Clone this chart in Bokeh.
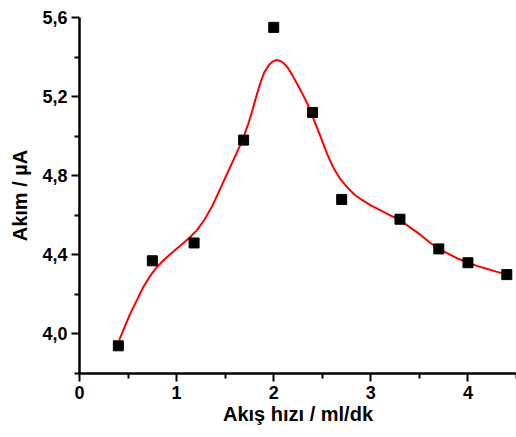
from bokeh.plotting import figure
from bokeh.models import FixedTicker, Range1d
from bokeh.embed import file_html
from bokeh.resources import INLINE

# measured points
flow = [0.4, 0.75, 1.18, 1.69, 2.0, 2.4, 2.7, 3.3, 3.7, 4.0, 4.4]
current = [3.94, 4.37, 4.46, 4.98, 5.55, 5.12, 4.68, 4.58, 4.43, 4.36, 4.30]

# fitted red curve
fit_x = [0.41, 0.46, 0.52, 0.59, 0.66, 0.73, 0.80, 0.87, 0.94, 1.01, 1.07, 1.14, 1.21, 1.29,
         1.37, 1.45, 1.52, 1.59, 1.65, 1.70, 1.74, 1.78, 1.82, 1.86, 1.90, 1.95, 1.99, 2.03,
         2.07, 2.10, 2.14, 2.19, 2.24, 2.30, 2.36, 2.42, 2.48, 2.55, 2.62, 2.69, 2.76, 2.83,
         2.90, 3.0, 3.10, 3.20, 3.30, 3.40, 3.50, 3.60, 3.70, 3.80, 3.90, 4.0, 4.10, 4.20,
         4.30, 4.40]
fit_y = [3.97, 4.03, 4.10, 4.17, 4.24, 4.295, 4.34, 4.375, 4.405, 4.435, 4.46, 4.49, 4.525, 4.58,
         4.65, 4.735, 4.81, 4.885, 4.95, 5.01, 5.065, 5.13, 5.20, 5.265, 5.32, 5.36, 5.378, 5.385,
         5.38, 5.37, 5.35, 5.31, 5.265, 5.21, 5.15, 5.075, 5.00, 4.91, 4.835, 4.78, 4.74, 4.705,
         4.68, 4.65, 4.625, 4.60, 4.575, 4.54, 4.505, 4.465, 4.43, 4.405, 4.38, 4.36, 4.343, 4.328,
         4.314, 4.30]

x_ticks = [0, 1, 2, 3, 4]
x_minor = [0.5, 1.5, 2.5, 3.5, 4.5]
y_ticks = [4.0, 4.4, 4.8, 5.2, 5.6]
y_labels = ["4,0", "4,4", "4,8", "5,2", "5,6"]
y_minor = [3.8, 4.2, 4.6, 5.0, 5.4]

p = figure(width=516, height=437, output_backend="svg", toolbar_location=None,
           x_range=Range1d(0, 4.5), y_range=Range1d(3.8, 5.6),
           min_border_left=79, min_border_right=0, min_border_top=17, min_border_bottom=64)
p.outline_line_color = None
p.xgrid.visible = False
p.ygrid.visible = False
p.background_fill_color = "white"
p.border_fill_color = "white"

p.line(fit_x, fit_y, line_color="#ff0000", line_width=2, line_join="round")
p.scatter(flow, current, marker="square", size=10, fill_color="black", line_color="black")

font = "Liberation Sans"
for ax in (p.xaxis[0], p.yaxis[0]):
    ax.axis_line_width = 2.5
    ax.axis_line_color = "black"
    ax.major_tick_line_width = 2
    ax.minor_tick_line_width = 2
    ax.major_tick_in = 0
    ax.major_tick_out = 8
    ax.minor_tick_in = 0
    ax.minor_tick_out = 5
    ax.major_label_text_font = font
    ax.major_label_text_font_style = "bold"
    ax.major_label_text_font_size = "18px"
    ax.major_label_text_color = "black"
    ax.axis_label_text_font = font
    ax.axis_label_text_font_style = "bold"
    ax.axis_label_text_font_size = "20px"
    ax.axis_label_text_color = "black"

p.xaxis[0].ticker = FixedTicker(ticks=x_ticks, minor_ticks=x_minor)
p.yaxis[0].ticker = FixedTicker(ticks=y_ticks, minor_ticks=y_minor)
p.yaxis[0].major_label_overrides = {t: l for t, l in zip(y_ticks, y_labels)}
p.xaxis[0].axis_label = "Akış hızı / ml/dk"
p.yaxis[0].axis_label = "Akım / µA"
p.xaxis[0].major_label_standoff = 4
p.yaxis[0].major_label_standoff = 4
p.xaxis[0].axis_label_standoff = 1
p.yaxis[0].axis_label_standoff = 8

open("out.html", "w").write(file_html(p, INLINE))
